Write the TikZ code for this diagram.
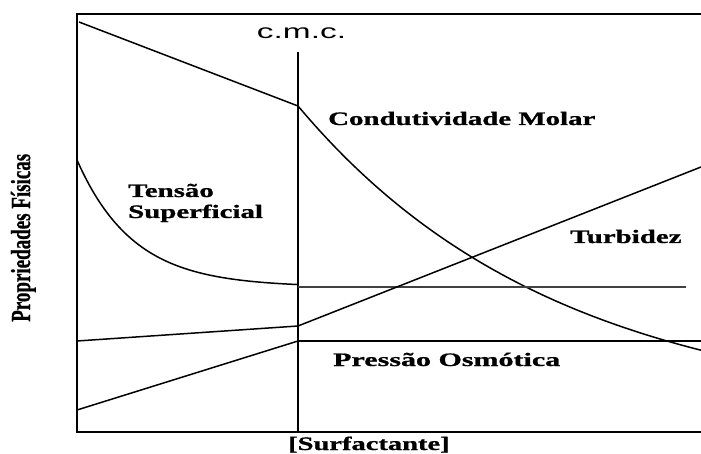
\documentclass[tikz,border=0pt]{standalone}
\usepackage{fontspec}
\setmainfont{Liberation Serif}
\newfontfamily\heavyfont{Liberation Serif}[BoldFeatures={FakeBold=0.8}]
\newfontfamily\arialfont{Liberation Sans}
\begin{document}
\begin{tikzpicture}[x=1pt,y=-1pt,
  axisline/.style={line width=2pt, black},
  curve/.style={line width=1.5pt, black},
  thinline/.style={line width=1.1pt, black!75},
  lbl/.style={inner sep=0pt, font=\heavyfont\fontsize{19}{21}\selectfont\bfseries, anchor=base west},
]
\useasboundingbox (0,0) rectangle (701,454);
% frame
\coordinate (tl) at (77,14);
\coordinate (tr) at (701,14);
\coordinate (bl) at (77,432);
\coordinate (br) at (701,432);
\coordinate (cmctop) at (298,52);
\coordinate (cmcbot) at (298,432);
\draw[axisline] (tr) -- (tl) -- (bl) -- (br);
\draw[axisline] (cmctop) -- (cmcbot);
% Condutividade molar
\coordinate (c0) at (79,22);
\coordinate (c1) at (298,106);
\draw[curve] (c0) -- (c1);
\draw[curve] plot[domain=0:403, samples=90] ({298+\x},{106+310*(1-exp(-\x/260))});
% Tensao superficial
\coordinate (s1) at (298,287);
\coordinate (s2) at (686,287);
\draw[curve] plot[domain=0:221, samples=90] ({77+\x},{287-127*exp(-\x/56)});
\draw[thinline] (s1) -- (s2);
% Turbidez
\coordinate (t0) at (77,341);
\coordinate (t1) at (298,326);
\coordinate (t2) at (701,167);
\draw[curve] (t0) -- (t1) -- (t2);
% Pressao osmotica
\coordinate (p0) at (77,410);
\coordinate (p1) at (298,341);
\coordinate (p2) at (701,341);
\draw[curve] (p0) -- (p1);
\draw[axisline] (p1) -- (p2);
% labels
\node[inner sep=0pt, anchor=base, font=\arialfont\fontsize{20}{22}\selectfont] (cmc) at (301.5,39) {\scalebox{1.67}[1]{c.m.c.}};
\node[lbl] (lcond) at (328,125) {\scalebox{1.52}[1]{Condutividade Molar}};
\node[lbl] (ltens) at (128,197) {\scalebox{1.52}[1]{Tensão}};
\node[lbl] (lsup) at (128,218) {\scalebox{1.52}[1]{Superficial}};
\node[lbl] (lturb) at (570,243) {\scalebox{1.52}[1]{Turbidez}};
\node[lbl] (lpress) at (333,366) {\scalebox{1.58}[1]{Pressão Osmótica}};
\node[lbl] (lsurf) at (288,450) {\scalebox{1.5}[1]{[Surfactante]}};
\node[lbl, rotate=90] (lprop) at (30,322) {\scalebox{1}[1.45]{Propriedades Físicas}};
\end{tikzpicture}
\end{document}
